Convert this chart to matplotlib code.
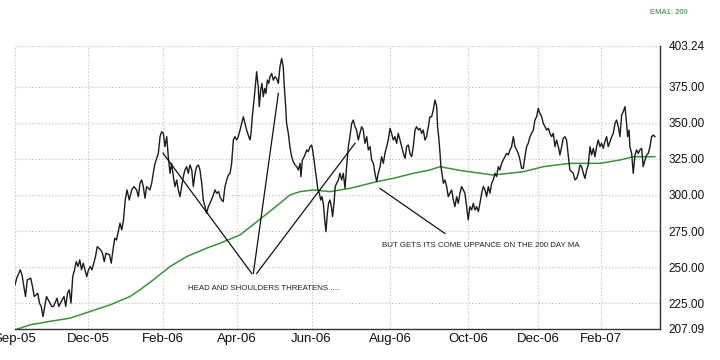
import matplotlib
matplotlib.use("Agg")
import matplotlib.pyplot as plt

plt.rcParams['font.family'] = ['Liberation Sans', 'DejaVu Sans']

# trading-session index (0 = late Sep-05) and closing price
price_session = [
    0, 1, 3, 4, 6, 7, 9, 10, 11, 13, 14, 15, 16, 17, 18, 20, 21, 22, 24, 25,
    26, 28, 29, 30, 31, 32, 33, 34, 35, 36, 37, 38, 39, 41, 42, 43, 44, 46, 47, 49,
    50, 51, 52, 54, 55, 56, 57, 58, 60, 61, 62, 63, 64,
    65.3, 66.7, 68, 69.5, 70.5, 71.4, 72.4, 73.3, 74.3, 75.2, 76.2, 77.1, 78.1, 79, 80, 81,
    81.9, 82.9, 83.8, 84.8, 85.7, 86.7, 87.6, 88.6, 89.5, 90.5, 91.4, 92.4, 93.3, 94.3, 95.2,
    96.2, 97.1, 98.1, 99, 100, 101, 101.9, 102.9, 103.8, 104.8, 105.7, 106.7, 107.6, 108.6,
    109.5, 110.5, 111.4, 113, 114.3, 115.2, 116.4, 117.1, 118.1, 119, 120, 121, 121.9, 122.9,
    123.8, 124.8, 125.7, 126.7, 127.6,
    128.6, 129.5, 130.5, 131.4, 132.4, 133.3, 134.3, 134.9, 135.6, 136.6, 137.5, 138.1, 139,
    139.6, 140.4, 141.1, 141.9, 142.7, 143.4, 144.2, 145, 145.7, 146.7, 147.6, 148.6, 149.5,
    150.5, 151.4, 152.4, 153.3, 153.9, 154.7, 155.2, 156.2, 157.1, 158.1, 159, 160, 161,
    161.9, 162.9, 163.4, 164.2, 164.8, 165.7, 166.7, 167.6, 168.6, 169.5, 170.1, 170.9, 171.6,
    172.4, 173.1, 173.9, 174.7, 175.4, 176.2, 177, 177.7, 178.5, 179.2, 180, 180.8, 181.5,
    182.3, 183, 183.8, 184.8, 185.7, 186.7, 187.6, 188.6, 189.5, 190.5, 191.4,
    192.4, 193.3, 194.3, 195.2, 196.2, 197.1, 198.1, 199, 200, 201, 201.9, 202.9, 203.8,
    204.8, 205.7, 206.7, 207.6, 208.6, 209.5, 210.5, 211.4, 212.4, 213.3, 214.3, 215.2, 216.2,
    217.1, 218.1, 219, 220, 221, 221.9, 222.9, 223.8, 224.8, 225.7, 226.7, 227.6, 228.6,
    229.5, 230.5, 231.4, 232.4, 233.3, 234.3, 235.2, 236.2, 237.1, 238.1, 239, 240, 241,
    241.5, 242.3, 242.9, 243.4, 244, 244.8, 245.7, 246.7, 247.6, 248.6, 249.5, 250.5, 251.4,
    252.4, 253.3,
    254.3, 255.2, 256.2, 257.1, 258.1, 259, 260, 261, 261.9, 262.9, 263.8, 264.8, 265.7,
    266.7, 267.6, 268.6, 269.5, 270.5, 271.4, 272.4, 273.3, 274.3, 275.2, 276.2, 277.1, 278.1,
    279, 280, 281, 281.9, 282.9, 283.8, 284.8, 285.7, 286.7, 287.6, 288.6, 289.5, 290.5,
    291.4, 292.4, 293.3, 294.3, 295.2, 296.2, 297.1, 298.1, 299, 300, 301, 301.9, 302.9,
    303.8, 304.8, 305.7, 306.7, 307.6, 308.6, 309.5, 310.5, 311.4, 312.4, 313.3, 314.3, 315.2,
    317.1, 318.1, 319, 320, 321, 321.9, 322.9, 323.8, 324.8, 325.7, 326.7, 327.6, 328.6,
    329.5, 330.5, 331.4, 332.4, 333.3, 334.3, 335.2, 336.2, 337.1, 338.1, 339, 340, 341,
    341.9, 342.9, 343.8, 344.8, 345.7, 346.7, 347.6, 348.6, 349.5, 350.1, 350.9, 351.4, 352.4,
    353.3, 354.3, 355.2, 356.2, 357.1, 358.1, 359, 360, 361, 361.9, 362.9, 363.8, 364.8, 365.7,
]
price_value = [
    237.7, 242.3, 248.1, 244.6, 229.6, 241.1, 242.3, 236.5, 229.6, 231.9, 225.0, 222.7, 215.7,
    222.7, 229.6, 225.0, 222.7, 222.7, 228.4, 222.7, 225.0, 229.6, 222.7, 231.9, 234.2, 225.0,
    243.4, 248.1, 253.8, 250.4, 255.0, 248.1, 252.7, 243.4, 248.1, 250.4, 248.1, 257.3, 264.2,
    261.9, 259.6, 253.8, 259.6, 258.5, 252.7, 261.9, 270.0, 268.8, 280.4, 275.8, 282.7, 296.5,
    303.5,
    296.5, 303.5, 305.8, 303.5, 298.8, 308.1, 310.4, 305.8, 297.7, 305.8, 304.6, 303.5, 308.1,
    315.0, 321.9, 325.4, 328.8, 340.4, 343.8, 342.7, 333.5, 340.4, 326.5, 315.0, 321.9, 312.7,
    305.8, 310.4, 303.5, 298.8, 305.8, 312.7, 317.3, 319.6, 315.0, 320.8, 317.3, 305.8, 315.0,
    319.6, 320.8, 317.3, 308.1, 296.5, 291.9, 287.3, 291.9, 294.2, 298.8, 303.5, 301.2, 302.3,
    298.8, 296.5, 295.4, 305.8, 310.4, 313.8, 315.0, 321.9, 338.1, 340.4, 338.1, 340.4,
    345.0, 349.6, 354.2, 349.6, 345.0, 341.5, 338.1, 342.7, 354.2, 365.8, 377.3, 385.4, 375.0,
    361.2, 372.7, 377.3, 368.1, 373.8, 370.4, 379.6, 377.3, 381.9, 384.2, 379.6, 381.9, 380.8,
    377.3, 388.8, 394.6, 388.8, 375.0, 361.2, 349.6, 342.7, 333.5, 326.5, 323.1, 320.8, 319.6,
    317.3, 321.9, 312.7, 324.2, 325.4, 327.7, 331.2, 330.0, 333.5, 334.6, 331.2, 324.2, 317.3,
    310.4, 303.5, 301.2, 296.5, 298.8, 294.2, 282.7, 274.6, 287.3, 294.2, 296.5, 291.9, 285.0,
    294.2, 305.8, 308.1, 310.4, 315.0, 310.4, 315.0, 304.6, 319.6, 333.5, 340.4,
    349.6, 351.9, 347.3, 345.0, 338.1, 342.7, 347.3, 345.0, 335.8, 340.4, 331.2, 333.5, 324.2,
    321.9, 315.0, 309.2, 315.0, 319.6, 326.5, 321.9, 328.8, 333.5, 338.1, 346.2, 342.7, 338.1,
    340.4, 335.8, 342.7, 338.1, 333.5, 328.8, 325.4, 333.5, 334.6, 328.8, 326.5, 333.5, 345.0,
    347.3, 345.0, 346.2, 342.7, 345.0, 338.1, 340.4, 347.3, 354.2, 354.2, 358.8, 365.8, 361.2,
    347.3, 338.1, 328.8, 319.6, 315.0, 308.1, 310.4, 305.8, 298.8, 301.2, 303.5, 296.5, 291.9,
    298.8, 294.2,
    301.2, 305.8, 303.5, 301.2, 291.9, 282.7, 291.9, 289.6, 294.2, 289.6, 291.9, 288.5, 294.2,
    301.2, 305.8, 303.5, 298.8, 305.8, 301.2, 308.1, 310.4, 315.0, 312.7, 319.6, 317.3, 321.9,
    324.2, 326.5, 328.8, 327.7, 331.2, 333.5, 340.4, 333.5, 331.2, 328.8, 324.2, 318.5, 318.5,
    326.5, 333.5, 335.8, 340.4, 342.7, 345.0, 351.9, 354.2, 360.0, 356.5, 354.2, 349.6, 347.3,
    345.0, 346.2, 342.7, 340.4, 342.7, 333.5, 338.1, 333.5, 327.7, 333.5, 339.2, 340.4, 338.1,
    317.3, 316.1, 315.0, 310.4, 311.5, 315.0, 320.8, 319.6, 315.0, 311.5, 317.3, 320.8, 333.5,
    327.7, 332.3, 326.5, 333.5, 338.1, 333.5, 335.8, 332.3, 336.9, 340.4, 333.5, 336.9, 340.4,
    342.7, 349.6, 351.9, 347.3, 340.4, 355.4, 357.7, 361.2, 349.6, 340.4, 345.0, 333.5, 328.8,
    315.0, 327.7, 331.2, 328.8, 331.2, 332.3, 319.6, 324.2, 327.7, 328.8, 333.5, 340.4, 341.5, 340.4,
]

# 200-day exponential moving average
ema_session = [0, 8.6, 20, 31.4, 42.9, 54.3, 65.7, 71.4, 79, 88.6, 98.1, 109.5, 117.1, 128.6,
               141.9, 151.4, 157.1, 162.9, 170.5, 180, 191.4, 206.7, 216.2, 227.6, 237.1, 242.9,
               254.3, 273.3, 290.5, 301.9, 317.1, 334.3, 345.7, 353.1, 365.7]
ema_value = [206.5, 210.0, 212.4, 214.6, 219.2, 223.8, 229.6, 234.2, 241.1, 250.4, 257.3, 263.1,
             266.5, 272.3, 285.0, 294.2, 300.0, 302.3, 303.5, 302.3, 304.6, 309.2, 311.5, 315.0,
             317.3, 319.6, 317.0, 313.8, 316.1, 319.6, 321.9, 321.9, 324.2, 326.5, 326.5]

tick_session = [0, 41.9, 84.4, 127, 169.5, 214.3, 259, 299, 334.7]
tick_labels = ['Sep-05', 'Dec-05', 'Feb-06', 'Apr-06', 'Jun-06', 'Aug-06', 'Oct-06', 'Dec-06', 'Feb-07']
y_ticks = [207.09, 225, 250, 275, 300, 325, 350, 375, 403.24]

# hand-drawn annotation strokes (session, price)
hs_lines = [((84.6, 329.0), (135.3, 245.6)),
            ((136.2, 245.6), (150.5, 370.4)),
            ((138.1, 245.6), (194.3, 335.8))]
ma_line = ((208.6, 304.5), (245.7, 273.3))

fig = plt.figure(figsize=(7.2, 3.6), dpi=100)
ax = fig.add_axes([15 / 720, 1 - 329 / 360, 645 / 720, 283 / 360])

ax.plot(ema_session, ema_value, color='#3f8f3f', lw=1.1, zorder=2)
ax.plot(price_session, price_value, color='#1c1c1c', lw=1.0, zorder=3)

for (x0, y0), (x1, y1) in hs_lines:
    ax.plot([x0, x1], [y0, y1], color='#111111', lw=0.9, zorder=4)
ax.plot([ma_line[0][0], ma_line[1][0]], [ma_line[0][1], ma_line[1][1]],
        color='#111111', lw=0.9, zorder=4)

ax.text(98.9, 235.4, 'HEAD AND SHOULDERS THREATENS ....', fontsize=5.7,
        color='#222222', va='center', ha='left')
ax.text(209.5, 265.2, 'BUT GETS ITS COME UPPANCE ON THE 200 DAY MA', fontsize=5.7,
        color='#222222', va='center', ha='left')

ax.set_xlim(0, 368.6)
ax.set_ylim(207.09, 403.24)
ax.set_xticks(tick_session)
ax.set_xticklabels(tick_labels, fontsize=9.5)
ax.set_yticks(y_ticks)
ax.set_yticklabels(['%.2f' % v for v in y_ticks], fontsize=8.5)
ax.yaxis.tick_right()
ax.tick_params(axis='both', length=0, colors='#111111')
ax.tick_params(axis='x', pad=3)
ax.tick_params(axis='y', pad=6)

ax.grid(True, color='#bcbcbc', linestyle=(0, (1, 2)), lw=0.8)
ax.set_axisbelow(True)
for side in ['left', 'top']:
    ax.spines[side].set_visible(False)
for side in ['bottom', 'right']:
    ax.spines[side].set_color('#333333')
    ax.spines[side].set_linewidth(1.0)

fig.text(650 / 720, 1 - 13 / 360, 'EMA1: 200', fontsize=5.5, color='#2e7d32',
         va='center', ha='left')

fig.savefig('out.png', dpi=100)
